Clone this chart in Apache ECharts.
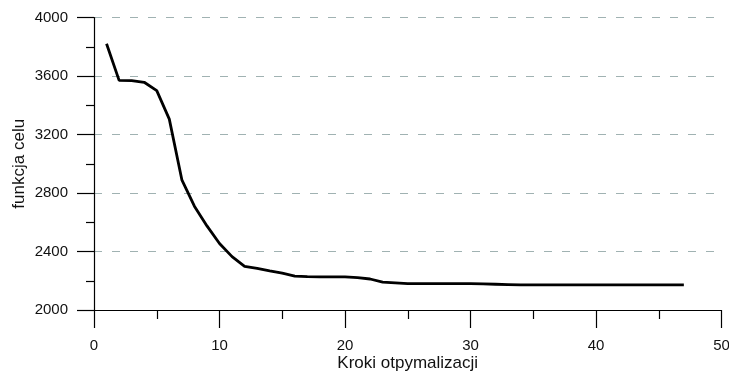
<!DOCTYPE html>
<html>
<head>
<meta charset="utf-8">
<script src="https://cdn.jsdelivr.net/npm/echarts@6/dist/echarts.min.js"></script>
<style>html,body{margin:0;padding:0;background:#fff}#c{width:729px;height:373px}</style>
</head>
<body>
<div id="c"></div>
<script>
const steps = [1,2,3,4,5,6,7,8,9,10,11,12,13,14,15,16,17,18,19,20,21,22,23,24,25,26,27,28,29,30,31,32,33,34,35,36,37,38,39,40,41,42,43,44,45,46,47];
const objective = [3820,3570,3568,3557,3500,3305,2890,2710,2575,2455,2365,2298,2285,2268,2252,2232,2228,2226,2226,2226,2222,2212,2190,2186,2180,2180,2180,2180,2180,2180,2178,2176,2174,2172,2172,2172,2172,2172,2172,2172,2172,2172,2172,2172,2172,2172,2172];
const xTitle = 'Kroki otpymalizacji';
const yTitle = 'funkcja celu';

const chart = echarts.init(document.getElementById('c'), null, {renderer: 'canvas'});
const font = 'Liberation Sans, Arial, sans-serif';
chart.setOption({
  animation: false,
  backgroundColor: '#fff',
  grid: {left: 94, right: 7.5, top: 17.5, bottom: 63, outerBoundsMode: 'none', containLabel: false},
  xAxis: {
    type: 'value', min: 0, max: 50, interval: 10,
    name: xTitle, nameLocation: 'middle', nameGap: 45, nameMoveOverlap: false,
    nameTextStyle: {fontFamily: font, fontSize: 17, color: '#111'},
    axisLine: {show: true, onZero: false, lineStyle: {color: '#000', width: 1.2}},
    axisTick: {show: true, inside: false, length: 18, lineStyle: {color: '#000', width: 1.2}},
    minorTick: {show: true, splitNumber: 2, length: 9, lineStyle: {color: '#000', width: 1.2}},
    axisLabel: {margin: 28, fontFamily: font, fontSize: 15, color: '#111', formatter: v => String(v)},
    splitLine: {show: false}
  },
  yAxis: {
    type: 'value', min: 2000, max: 4000, interval: 400,
    name: yTitle, nameLocation: 'middle', nameGap: 66, nameRotate: 90, nameMoveOverlap: false,
    nameTextStyle: {fontFamily: font, fontSize: 17, color: '#111'},
    axisLine: {show: true, onZero: false, lineStyle: {color: '#000', width: 1.2}},
    axisTick: {show: true, inside: false, length: 17, lineStyle: {color: '#000', width: 1.2}},
    minorTick: {show: true, splitNumber: 2, length: 8, lineStyle: {color: '#000', width: 1.2}},
    axisLabel: {margin: 26, fontFamily: font, fontSize: 15, color: '#111', formatter: v => String(v)},
    splitLine: {show: true, lineStyle: {color: '#a0b2b2', width: 1, type: [8, 10]}}
  },
  series: [{
    type: 'line',
    data: steps.map((s, i) => [s, objective[i]]),
    showSymbol: false,
    lineStyle: {color: '#000', width: 2.8},
    z: 5
  }]
});
</script>
</body>
</html>
